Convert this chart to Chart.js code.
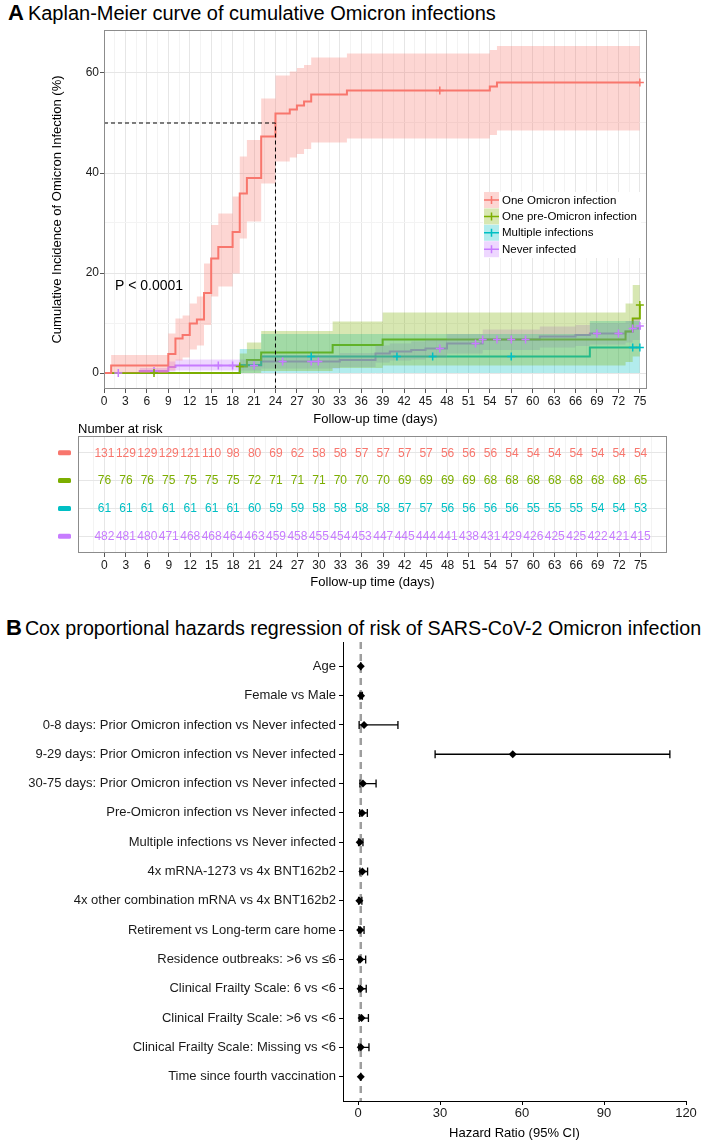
<!DOCTYPE html>
<html>
<head>
<meta charset="utf-8">
<script src="https://cdn.jsdelivr.net/npm/chart.js@4.4.1/dist/chart.umd.min.js"></script>
<style>
  body { margin: 0; background: #fff; font-family: "Liberation Sans", Arial, sans-serif; }
  #page { position: relative; width: 712px; height: 1142px; overflow: hidden; background: #fff; }
  canvas { position: absolute; left: 0; }
  .title { position: absolute; left: 8px; font-size: 20px; line-height: 24px; color: #000; white-space: nowrap; }
  .title b { font-size: 22px; margin-right: 4px; }
  .title.small { font-size: 19.7px; left: 6px; }
  .title.small b { margin-right: 3px; }
</style>
</head>
<body>
<div id="page">
  <div class="title" style="top:1px"><b>A</b>Kaplan-Meier curve of cumulative Omicron infections</div>
  <canvas id="km" width="712" height="430" style="top:0"></canvas>
  <canvas id="risk" width="712" height="175" style="top:420px"></canvas>
  <div class="title small" style="top:616px"><b>B</b>Cox proportional hazards regression of risk of SARS-CoV-2 Omicron infection</div>
  <canvas id="forest" width="712" height="542" style="top:600px"></canvas>
</div>
<script>
const FONT = '"Liberation Sans", Arial, sans-serif';
Chart.defaults.font.family = FONT;
Chart.defaults.color = '#1a1a1a';
Chart.defaults.animation = false;

// groups
const groups = ['One Omicron infection', 'One pre-Omicron infection', 'Multiple infections', 'Never infected'];
const groupColors = ['#F8766D', '#7CAE00', '#00BFC4', '#C77CFF'];

// Kaplan-Meier steps (day the estimate changes, cumulative incidence %, 95% CI)
const omiTimes = [0, 1, 9, 10, 11, 12, 13, 14, 15, 16, 18, 19, 20, 22, 24, 26, 27, 28, 29, 34, 54, 55, 75];
const omiEst   = [0, 1.5, 3.8, 6.9, 7.6, 9.9, 10.7, 16.0, 22.9, 25.2, 28.2, 35.9, 39.0, 47.3, 51.9, 52.7, 53.5, 54.3, 55.7, 56.5, 57.3, 58.1, 58.1];
const omiUpper = [0, 3.6, 7.9, 10.9, 11.5, 13.9, 15.3, 21.9, 29.6, 31.9, 35.3, 43.3, 46.6, 54.9, 59.5, 60.3, 61.0, 61.6, 63.1, 63.9, 64.6, 65.4, 65.4];
const omiLower = [0, 0, 0.5, 2.5, 3.1, 4.7, 5.5, 9.6, 15.3, 17.3, 19.9, 26.9, 30.3, 37.9, 42.3, 43.1, 43.8, 44.8, 46.1, 46.9, 47.6, 48.5, 48.5];
const omiCensor = [47, 75];

const preTimes = [0, 19, 20, 22, 32, 39, 73, 74, 75];
const preEst   = [0, 1.3, 2.6, 4.1, 5.6, 6.7, 8.3, 10.9, 13.6];
const preUpper = [0, 3.9, 6.1, 8.4, 10.3, 12.1, 13.9, 17.6, 17.6];
const preLower = [0, 0, 0, 0.4, 1.0, 1.5, 2.2, 3.3, 3.3];
const preCensor = [7, 19, 75];

const mulTimes = [0, 19, 22, 68, 75];
const mulEst   = [0, 1.6, 3.3, 5.1, 5.1];
const mulUpper = [0, 4.8, 7.8, 10.4, 10.4];
const mulLower = [0, 0, 0, 0, 0];
const mulCensor = [29, 41, 46, 57, 74, 75];

const neverTimes = [0, 5, 9, 10, 22, 33, 38, 40, 43, 45, 48, 53, 61, 66, 68, 73, 74, 75];
const neverEst   = [0, 0.4, 1.2, 1.5, 2.3, 2.6, 3.9, 4.3, 4.6, 4.9, 5.9, 6.7, 7.3, 7.6, 7.9, 8.3, 8.9, 9.4];
const neverUpper = [0, 1.0, 2.3, 2.7, 3.6, 4.0, 5.5, 5.9, 6.3, 6.7, 7.8, 8.7, 9.3, 9.6, 10.0, 10.4, 10.8, 11.4];
const neverLower = [0, 0, 0.3, 0.5, 0.9, 1.2, 2.1, 2.5, 2.7, 3.1, 3.9, 4.6, 5.1, 5.4, 5.7, 6.1, 6.6, 7.1];
const neverCensor = [2, 7, 16, 18, 21, 25, 29, 30, 47, 52, 53, 55, 57, 59, 69, 72, 74, 75];

const medianDay = 24;
const medianLevel = 50;

// axes
const dayTicks = [0, 3, 6, 9, 12, 15, 18, 21, 24, 27, 30, 33, 36, 39, 42, 45, 48, 51, 54, 57, 60, 63, 66, 69, 72, 75];
const kmYTicks = [0, 20, 40, 60];

// number at risk
const riskOmi   = [131, 129, 129, 129, 121, 110, 98, 80, 69, 62, 58, 58, 57, 57, 57, 57, 56, 56, 56, 54, 54, 54, 54, 54, 54, 54];
const riskPre   = [76, 76, 76, 75, 75, 75, 75, 72, 71, 71, 71, 70, 70, 70, 69, 69, 69, 69, 68, 68, 68, 68, 68, 68, 68, 65];
const riskMul   = [61, 61, 61, 61, 61, 61, 61, 60, 59, 59, 58, 58, 58, 58, 57, 57, 56, 56, 56, 56, 55, 55, 55, 54, 54, 53];
const riskNever = [482, 481, 480, 471, 468, 468, 464, 463, 459, 458, 455, 454, 453, 447, 445, 444, 441, 438, 431, 429, 426, 425, 425, 422, 421, 415];

// Cox regression
const coxLabels = [
  'Age', 'Female vs Male',
  '0-8 days: Prior Omicron infection vs Never infected',
  '9-29 days: Prior Omicron infection vs Never infected',
  '30-75 days: Prior Omicron infection vs Never infected',
  'Pre-Omicron infection vs Never infected',
  'Multiple infections vs Never infected',
  '4x mRNA-1273 vs 4x BNT162b2',
  '4x other combination mRNA vs 4x BNT162b2',
  'Retirement vs Long-term care home',
  'Residence outbreaks: >6 vs \u22646',
  'Clinical Frailty Scale: 6 vs <6',
  'Clinical Frailty Scale: >6 vs <6',
  'Clinical Frailty Scale: Missing vs <6',
  'Time since fourth vaccination'
];
const coxHR    = [1.0, 1.1, 2.2, 56.6, 1.8, 1.5, 0.6, 1.6, 0.5, 0.8, 0.8, 0.9, 1.3, 1.0, 1.0];
const coxLower = [0.98, 0.7, 0.4, 28.2, 0.7, 0.6, 0.2, 0.7, 0.2, 0.3, 0.3, 0.3, 0.4, 0.3, 0.99];
const coxUpper = [1.02, 1.6, 14.6, 114.1, 6.6, 3.4, 1.8, 3.5, 1.4, 2.2, 2.8, 3.0, 3.8, 4.0, 1.01];
const hrTicks = [0, 30, 60, 90, 120];
const refHR = 1;

// ---------- helpers
function alpha(hex, a) {
  const n = parseInt(hex.slice(1), 16);
  return `rgba(${n >> 16},${(n >> 8) & 255},${n & 255},${a})`;
}
const pts = (xs, ys) => xs.map((x, i) => ({x: x, y: ys[i]}));
function valueAt(times, est, t) {
  let v = est[0];
  times.forEach((tt, i) => { if (tt <= t) v = est[i]; });
  return v;
}
const isMult = (v, m) => Math.abs(v / m - Math.round(v / m)) < 1e-6;
function gridValues(lo, hi) {
  const out = [];
  dayTicks.forEach(d => { out.push(d); out.push(d + 1.5); });
  out.push(dayTicks[0] - 1.5);
  return out.filter(v => v >= lo && v <= hi).sort((a, b) => a - b);
}

// ---------- Kaplan-Meier chart
const kmGroups = [
  [omiTimes, omiEst, omiUpper, omiLower, omiCensor],
  [preTimes, preEst, preUpper, preLower, preCensor],
  [mulTimes, mulEst, mulUpper, mulLower, mulCensor],
  [neverTimes, neverEst, neverUpper, neverLower, neverCensor]
];

const kmDatasets = [];
kmGroups.forEach(([t, est, up, lo, cens], k) => {
  const c = groupColors[k];
  // ribbon (drawn over the lines, like the original)
  kmDatasets.push({type: 'line', data: pts(t, up), stepped: 'before', borderColor: 'rgba(0,0,0,0)', borderWidth: 0,
    pointRadius: 0, backgroundColor: alpha(c, 0.3), fill: '+1', order: 1});
  kmDatasets.push({type: 'line', data: pts(t, lo), stepped: 'before', borderColor: 'rgba(0,0,0,0)', borderWidth: 0,
    pointRadius: 0, fill: false, order: 1});
  kmDatasets.push({type: 'line', data: pts(t, est), stepped: 'before', borderColor: c, borderWidth: 2,
    pointRadius: 0, fill: false, order: 2});
  kmDatasets.push({type: 'scatter', data: cens.map(d => ({x: d, y: valueAt(t, est, d)})), pointStyle: 'cross',
    pointRadius: 4, borderColor: c, borderWidth: 1.5, order: 0});
});

const kmExtras = {
  id: 'kmExtras',
  afterDraw(chart) {
    const {ctx, chartArea: a, scales: {x, y}} = chart;
    ctx.save();
    // median dashed guide
    ctx.strokeStyle = '#000';
    ctx.lineWidth = 1;
    ctx.setLineDash([4, 3]);
    ctx.beginPath();
    ctx.moveTo(a.left, y.getPixelForValue(medianLevel));
    ctx.lineTo(x.getPixelForValue(medianDay), y.getPixelForValue(medianLevel));
    ctx.lineTo(x.getPixelForValue(medianDay), a.bottom);
    ctx.stroke();
    ctx.setLineDash([]);
    // panel border
    ctx.strokeStyle = '#8c8c8c';
    ctx.strokeRect(a.left + 0.5, a.top + 0.5, a.width - 1, a.height - 1);
    // p value
    ctx.fillStyle = '#000';
    ctx.font = '14px ' + FONT;
    ctx.textAlign = 'left';
    ctx.textBaseline = 'middle';
    ctx.fillText('P < 0.0001', a.left + 11, a.top + 256);
    // legend
    const lx = a.left + 379, ly = a.top + 162;
    ctx.fillStyle = '#fff';
    ctx.fillRect(lx, ly, 158, 66);
    ctx.font = '11.5px ' + FONT;
    groups.forEach((g, k) => {
      const top = ly + k * 16.4;
      const cy = top + 8;
      ctx.fillStyle = alpha(groupColors[k], 0.3);
      ctx.fillRect(lx + 1, top, 15, 16);
      ctx.strokeStyle = groupColors[k];
      ctx.lineWidth = 1.5;
      ctx.beginPath();
      ctx.moveTo(lx + 1, cy); ctx.lineTo(lx + 16, cy);
      ctx.moveTo(lx + 8.5, cy - 4); ctx.lineTo(lx + 8.5, cy + 4);
      ctx.stroke();
      ctx.fillStyle = '#000';
      ctx.fillText(g, lx + 19, cy + 0.5);
    });
    ctx.restore();
  }
};

new Chart(document.getElementById('km'), {
  type: 'line',
  data: {datasets: kmDatasets},
  options: {
    responsive: false,
    events: [],
    layout: {padding: {top: 30, right: 65, left: 50, bottom: 0}},
    plugins: {legend: {display: false}, tooltip: {enabled: false}, filler: {propagate: false}},
    scales: {
      x: {
        type: 'linear', min: 0, max: 76,
        afterBuildTicks: s => { s.ticks = gridValues(0, 76).map(v => ({value: v})); },
        afterFit: s => { s.height = 41; },
        ticks: {autoSkip: false, maxRotation: 0, padding: 1, color: '#1a1a1a', font: {size: 12},
          callback: v => (isMult(v, 3) ? v : '')},
        grid: {color: c => (isMult(c.tick.value, 3) ? '#e6e6e6' : '#f3f3f3'),
          tickColor: c => (isMult(c.tick.value, 3) ? '#555' : 'rgba(0,0,0,0)'), tickLength: 4},
        border: {display: false},
        title: {display: true, text: 'Follow-up time (days)', font: {size: 13}, color: '#000', padding: {top: 0, bottom: 3}}
      },
      y: {
        type: 'linear', min: -3.2, max: 68.6,
        afterBuildTicks: s => { s.ticks = [0, 10, 20, 30, 40, 50, 60].map(v => ({value: v})); },
        afterFit: s => { s.width = 54; },
        ticks: {padding: 1, color: '#1a1a1a', font: {size: 12}, callback: v => (kmYTicks.includes(v) ? v : '')},
        grid: {color: c => (kmYTicks.includes(c.tick.value) ? '#e6e6e6' : '#f3f3f3'),
          tickColor: c => (kmYTicks.includes(c.tick.value) ? '#555' : 'rgba(0,0,0,0)'), tickLength: 4},
        border: {display: false},
        title: {display: true, text: 'Cumulative Incidence of Omicron Infection (%)', font: {size: 13}, color: '#000', padding: {top: 0, bottom: 0}}
      }
    }
  },
  plugins: [kmExtras]
});

// ---------- Number at risk table
const riskRows = [riskOmi, riskPre, riskMul, riskNever];
const riskExtras = {
  id: 'riskExtras',
  afterDraw(chart) {
    const {ctx, chartArea: a, scales: {x, y}} = chart;
    ctx.save();
    ctx.strokeStyle = '#8c8c8c';
    ctx.lineWidth = 1;
    ctx.strokeRect(a.left + 0.5, a.top + 0.5, a.width - 1, a.height - 1);
    ctx.textAlign = 'center';
    ctx.textBaseline = 'middle';
    ctx.font = '12px ' + FONT;
    riskRows.forEach((row, k) => {
      const yy = y.getPixelForValue(k + 1);
      ctx.fillStyle = groupColors[k];
      row.forEach((n, i) => ctx.fillText(String(n), x.getPixelForValue(dayTicks[i]), yy + 0.5));
      ctx.beginPath();
      ctx.roundRect(a.left - 20, yy - 2.5, 13, 5, 1.5);
      ctx.fill();
    });
    ctx.fillStyle = '#000';
    ctx.textAlign = 'left';
    ctx.font = '13px ' + FONT;
    ctx.fillText('Number at risk', a.left, a.top - 7);
    ctx.restore();
  }
};

new Chart(document.getElementById('risk'), {
  type: 'scatter',
  data: {datasets: [{data: []}]},
  options: {
    responsive: false,
    events: [],
    layout: {padding: {top: 16, right: 45, left: 78, bottom: 0}},
    plugins: {legend: {display: false}, tooltip: {enabled: false}},
    scales: {
      x: {
        type: 'linear', min: -3.7, max: 78.7,
        afterBuildTicks: s => { s.ticks = gridValues(-3.7, 78.7).map(v => ({value: v})); },
        afterFit: s => { s.height = 42; },
        ticks: {autoSkip: false, maxRotation: 0, padding: 1, color: '#1a1a1a', font: {size: 12},
          callback: v => (dayTicks.includes(v) ? v : '')},
        grid: {color: c => (isMult(c.tick.value, 3) ? '#e6e6e6' : '#f3f3f3'),
          tickColor: c => (dayTicks.includes(c.tick.value) ? '#555' : 'rgba(0,0,0,0)'), tickLength: 4},
        border: {display: false},
        title: {display: true, text: 'Follow-up time (days)', font: {size: 13}, color: '#000', padding: {top: 0, bottom: 5}}
      },
      y: {
        type: 'linear', min: 0.4, max: 4.6, reverse: true,
        afterBuildTicks: s => { s.ticks = [1, 2, 3, 4].map(v => ({value: v})); },
        afterFit: s => { s.width = 0; },
        ticks: {display: false},
        grid: {color: '#e6e6e6', drawTicks: false},
        border: {display: false}
      }
    }
  },
  plugins: [riskExtras]
});

// ---------- Cox forest plot
const forestExtras = {
  id: 'forestExtras',
  beforeDatasetsDraw(chart) {
    const {ctx, chartArea: a, scales: {x, y}} = chart;
    ctx.save();
    ctx.strokeStyle = '#9e9e9e';
    ctx.lineWidth = 2.5;
    ctx.setLineDash([7, 5]);
    ctx.beginPath();
    ctx.moveTo(x.getPixelForValue(refHR), a.top);
    ctx.lineTo(x.getPixelForValue(refHR), a.bottom);
    ctx.stroke();
    ctx.setLineDash([]);
    ctx.strokeStyle = '#000';
    ctx.lineWidth = 1.3;
    coxLabels.forEach((lab, i) => {
      const yy = y.getPixelForValue(i + 1);
      const x1 = x.getPixelForValue(coxLower[i]);
      const x2 = x.getPixelForValue(coxUpper[i]);
      ctx.beginPath();
      ctx.moveTo(x1, yy); ctx.lineTo(x2, yy);
      ctx.moveTo(x1, yy - 4); ctx.lineTo(x1, yy + 4);
      ctx.moveTo(x2, yy - 4); ctx.lineTo(x2, yy + 4);
      ctx.stroke();
    });
    ctx.restore();
  }
};

new Chart(document.getElementById('forest'), {
  type: 'scatter',
  data: {datasets: [{data: coxHR.map((v, i) => ({x: v, y: i + 1})), pointStyle: 'rectRot', pointRadius: 4,
    backgroundColor: '#000', borderColor: '#000', borderWidth: 0}]},
  options: {
    responsive: false,
    events: [],
    layout: {padding: {top: 42, right: 26, left: 0, bottom: 0}},
    plugins: {legend: {display: false}, tooltip: {enabled: false}},
    scales: {
      x: {
        type: 'linear', min: -5.5, max: 120,
        afterBuildTicks: s => { s.ticks = hrTicks.map(v => ({value: v})); },
        afterFit: s => { s.height = 41; },
        ticks: {autoSkip: false, maxRotation: 0, padding: 1, color: '#1a1a1a', font: {size: 13}},
        grid: {drawOnChartArea: false, color: '#000', tickLength: 4},
        border: {display: true, color: '#000', width: 1},
        title: {display: true, text: 'Hazard Ratio (95% CI)', font: {size: 13}, color: '#000', padding: {top: 0, bottom: 1}}
      },
      y: {
        type: 'linear', min: 0.17, max: 15.83, reverse: true,
        afterBuildTicks: s => { s.ticks = coxLabels.map((l, i) => ({value: i + 1})); },
        afterFit: s => { s.width = 343; },
        ticks: {autoSkip: false, padding: 3, color: '#1a1a1a', font: {size: 13}, callback: v => coxLabels[v - 1]},
        grid: {drawOnChartArea: false, color: '#000', tickLength: 4},
        border: {display: true, color: '#000', width: 1}
      }
    }
  },
  plugins: [forestExtras]
});
</script>
</body>
</html>
